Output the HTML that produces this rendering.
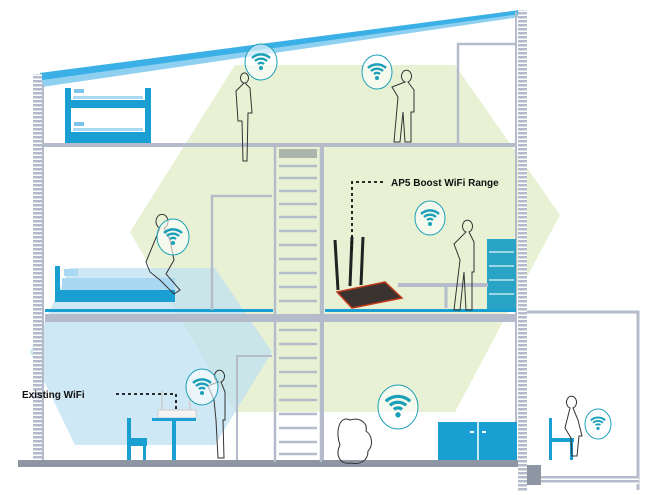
<!DOCTYPE html>
<html><head><meta charset="utf-8"><style>
html,body{margin:0;padding:0;background:#fff;}
svg{display:block;}
text{font-family:"Liberation Sans",sans-serif;font-weight:bold;}
</style></head><body>
<svg width="647" height="495" viewBox="0 0 647 495" xmlns="http://www.w3.org/2000/svg">
<defs>
<pattern id="wall" width="8" height="4" patternUnits="userSpaceOnUse">
<rect width="8" height="4" fill="#fff"/><rect width="8" height="2.5" fill="#b4bccb"/></pattern>
<g id="wifi"><path d="M-9,-2 A13,13 0 0 1 9,-2" fill="none" stroke="#1aa0b8" stroke-width="2.4"/><path d="M-6,1 A9,9 0 0 1 6,1" fill="none" stroke="#1aa0b8" stroke-width="2.4"/><path d="M-3,4 A4.5,4.5 0 0 1 3,4" fill="none" stroke="#1aa0b8" stroke-width="2.4"/><circle cx="0" cy="8" r="2" fill="#1aa0b8"/></g>
</defs>
<!-- green range hexagon -->
<polygon points="235,65 455,65 560,215 455,412 235,412 130,232" fill="#e7efcf" opacity="0.9"/>
<!-- blue existing wifi hexagon -->
<polygon points="70,268 215,268 272,352 215,445 75,445 30,352" fill="#bfe0f2" opacity="0.75"/>
<!-- roof -->
<polygon points="40,73 520,10 520,17 42,87" fill="#8fd0f0"/>
<polygon points="40,73 520,10 520,14 42,80" fill="#3bb0e6"/>
<!-- walls -->
<rect x="33" y="74" width="9" height="393" fill="url(#wall)"/>
<rect x="518" y="10" width="9" height="482" fill="url(#wall)"/>
<line x1="43" y1="84" x2="43" y2="462" stroke="#b4bccb" stroke-width="2"/>
<line x1="516" y1="12" x2="516" y2="462" stroke="#b4bccb" stroke-width="2"/>
<!-- top floor -->
<rect x="43" y="143" width="473" height="4" fill="#b4bccb"/>
<polyline points="458,145 458,44 516,44" fill="none" stroke="#b4bccb" stroke-width="2.5"/>
<!-- middle floor -->
<rect x="45" y="309" width="228" height="3" fill="#1a9fd2"/>
<rect x="325" y="309" width="191" height="3" fill="#1a9fd2"/>
<rect x="45" y="314" width="471" height="8" fill="#b4bccb"/>
<polyline points="212,310 212,196 272,196" fill="none" stroke="#b4bccb" stroke-width="2.5"/>
<line x1="323" y1="147" x2="323" y2="460" stroke="#b4bccb" stroke-width="2"/>
<!-- ground -->
<rect x="18" y="460" width="500" height="7" fill="#8f96a3"/>
<polyline points="237,460 237,356 272,356" fill="none" stroke="#b4bccb" stroke-width="2"/>
<!-- stairs -->
<line x1="275" y1="145" x2="275" y2="462" stroke="#b4bccb" stroke-width="2.5"/>
<line x1="321" y1="145" x2="321" y2="462" stroke="#b4bccb" stroke-width="2.5"/>
<rect x="279" y="149" width="38" height="9" fill="#aab6ac"/>
<g stroke="#b4bccb" stroke-width="2.5">
<line x1="279" y1="166" x2="317" y2="166"/><line x1="279" y1="178" x2="317" y2="178"/><line x1="279" y1="191" x2="317" y2="191"/><line x1="279" y1="204" x2="317" y2="204"/><line x1="279" y1="217" x2="317" y2="217"/><line x1="279" y1="231" x2="317" y2="231"/><line x1="279" y1="245" x2="317" y2="245"/><line x1="279" y1="259" x2="317" y2="259"/><line x1="279" y1="273" x2="317" y2="273"/><line x1="279" y1="287" x2="317" y2="287"/><line x1="279" y1="301" x2="317" y2="301"/><line x1="279" y1="330" x2="317" y2="330"/><line x1="279" y1="344" x2="317" y2="344"/><line x1="279" y1="358" x2="317" y2="358"/><line x1="279" y1="372" x2="317" y2="372"/><line x1="279" y1="386" x2="317" y2="386"/><line x1="279" y1="400" x2="317" y2="400"/><line x1="279" y1="414" x2="317" y2="414"/><line x1="279" y1="428" x2="317" y2="428"/><line x1="279" y1="442" x2="317" y2="442"/><line x1="279" y1="454" x2="317" y2="454"/>
</g>
<!-- annex -->
<polyline points="527,312 638,312 638,490" fill="none" stroke="#b4bccb" stroke-width="3"/>
<rect x="527" y="476" width="112" height="8" fill="url(#wall)"/>
<rect x="527" y="465" width="14" height="20" fill="#8f96a3"/>
<!-- bunk bed -->
<rect x="65" y="88" width="6" height="55" fill="#1a9fd2"/><rect x="145" y="88" width="6" height="55" fill="#1a9fd2"/>
<rect x="65" y="132" width="86" height="11" fill="#1a9fd2"/>
<rect x="65" y="100" width="86" height="8" fill="#1a9fd2"/>
<rect x="73" y="96" width="70" height="3" fill="#a8d8f2"/><rect x="73" y="128" width="70" height="3" fill="#a8d8f2"/>
<rect x="74" y="89" width="10" height="4" fill="#7cc4ec"/><rect x="74" y="122" width="10" height="4" fill="#7cc4ec"/>
<!-- bed -->
<rect x="55" y="266" width="5" height="36" fill="#1a9fd2"/>
<rect x="55" y="290" width="120" height="12" fill="#1a9fd2"/>
<rect x="62" y="278" width="113" height="12" fill="#a8d8f2"/>
<rect x="64" y="269" width="14" height="7" fill="#a8d8f2"/>
<!-- bookshelf -->
<rect x="487" y="239" width="29" height="70" fill="#2aa4c4"/>
<g stroke="#bfe7ee" stroke-width="1.5"><line x1="489" y1="252" x2="514" y2="252"/><line x1="489" y1="266" x2="514" y2="266"/><line x1="489" y1="280" x2="514" y2="280"/><line x1="489" y1="294" x2="514" y2="294"/></g>
<!-- desk in middle right -->
<rect x="398" y="283" width="90" height="4" fill="#b4bccb"/>
<line x1="446" y1="287" x2="446" y2="308" stroke="#b4bccb" stroke-width="3"/>
<!-- router AP5 -->
<polygon points="337,292 385,282 402,298 352,308" fill="#3a3330" stroke="#c23a1c" stroke-width="1.5"/>
<g stroke="#222" stroke-width="3"><line x1="338" y1="290" x2="335" y2="240"/><line x1="350" y1="286" x2="352" y2="237"/><line x1="361" y1="285" x2="363" y2="237"/></g>
<!-- existing router -->
<rect x="158" y="410" width="38" height="8" fill="#f4f4f4" stroke="#ccc"/>
<line x1="162" y1="410" x2="162" y2="390" stroke="#ccc" stroke-width="1.5"/><line x1="190" y1="410" x2="190" y2="390" stroke="#ccc" stroke-width="1.5"/>
<!-- table & chair -->
<rect x="152" y="418" width="44" height="3" fill="#1a9fd2"/><rect x="172" y="418" width="4" height="42" fill="#1a9fd2"/>
<rect x="127" y="438" width="20" height="8" fill="#1a9fd2"/><rect x="127" y="418" width="4" height="42" fill="#1a9fd2"/><rect x="143" y="438" width="3" height="22" fill="#1a9fd2"/>
<!-- cabinet -->
<rect x="438" y="422" width="79" height="38" fill="#1a9fd2"/>
<line x1="478" y1="422" x2="478" y2="460" stroke="#fff" stroke-width="1.5"/>
<rect x="470" y="431" width="4" height="2" fill="#fff"/><rect x="482" y="431" width="4" height="2" fill="#fff"/>
<!-- annex chair -->
<rect x="549" y="438" width="25" height="4" fill="#1a9fd2"/><rect x="549" y="418" width="3" height="42" fill="#1a9fd2"/><rect x="570" y="438" width="3" height="22" fill="#1a9fd2"/>
<!-- people (outlines) -->
<g fill="none" stroke="#333" stroke-width="1">
<path d="M244,83 a4,5 0 1 1 1,0 l5,5 l2,25 l-4,0 l-1,48 l-4,0 l-1,-40 l-4,0 l-2,-30 z"/>
<path d="M405,82 a5,6 0 1 1 3,0 l6,8 l0,22 l-3,0 l0,30 l-6,0 l-2,-30 l-3,30 l-6,0 l4,-45 l-6,-10 z"/>
<path d="M160,228 a6,7 0 1 1 4,0 l6,12 l4,20 l-8,14 l14,16 l-6,4 l-14,-14 l-10,-8 l-4,-10 z"/>
<path d="M466,232 a5,6 0 1 1 3,0 l5,10 l0,30 l-2,0 l0,38 l-6,0 l-2,-38 l-4,38 l-6,0 l6,-50 l-6,-16 z"/>
<path d="M218,382 a5,6 0 1 1 3,0 l4,10 l0,28 l-2,0 l1,38 l-6,0 l-2,-38 l-2,-20 l-6,-14 z"/>
<path d="M350,420 c-10,-5 -15,10 -10,25 c-5,10 0,20 10,18 c10,2 18,-2 18,-12 c5,-5 5,-15 -2,-20 c2,-8 -6,-14 -16,-11 z"/>
<path d="M570,408 a5,6 0 1 1 3,0 l5,12 l4,16 l-3,0 l-2,20 l-5,0 l-1,-18 l-6,-10 z"/>
</g>
<!-- wifi bubbles -->
<g fill="#fff" fill-opacity="0.6" stroke="#1aa0b8" stroke-width="1">
<ellipse cx="261" cy="62" rx="16" ry="18"/><ellipse cx="377" cy="72" rx="15" ry="17"/>
<ellipse cx="430" cy="218" rx="15" ry="17"/><ellipse cx="173" cy="237" rx="16" ry="18"/>
<ellipse cx="202" cy="387" rx="16" ry="18"/><ellipse cx="398" cy="407" rx="20" ry="22"/>
<ellipse cx="598" cy="424" rx="13" ry="15"/>
</g>
<use href="#wifi" x="261" y="60"/><use href="#wifi" x="377" y="70"/><use href="#wifi" x="430" y="216"/>
<use href="#wifi" x="173" y="235"/><use href="#wifi" x="202" y="385"/>
<use href="#wifi" transform="translate(398,404) scale(1.35)"/><use href="#wifi" transform="translate(598,422) scale(0.8)"/>
<!-- labels -->
<path d="M352,250 L352,182 L386,182" fill="none" stroke="#111" stroke-width="1.8" stroke-dasharray="3,3"/>
<text x="391" y="186" font-size="10" fill="#111">AP5 Boost WiFi Range</text>
<path d="M116,394 L176,394 L176,412" fill="none" stroke="#111" stroke-width="1.8" stroke-dasharray="3,3"/>
<text x="22" y="398" font-size="10" fill="#111">Existing WiFi</text>
</svg>
</body></html>
